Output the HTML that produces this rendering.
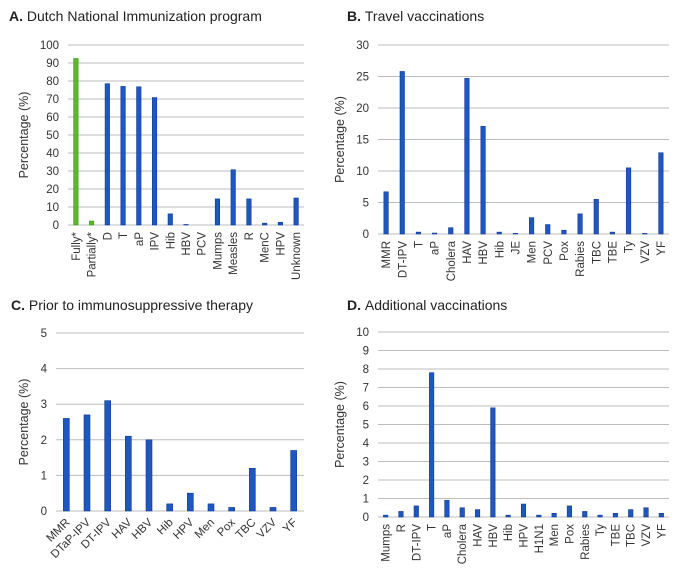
<!DOCTYPE html>
<html><head><meta charset="utf-8"><style>
body{margin:0;background:#fff;}
svg{display:block;font-family:"Liberation Sans",Arial,sans-serif;}
</style></head><body>
<svg id="c" width="685" height="571" viewBox="0 0 685 571"></svg>
<script>
const catsA=["Fully*","Partially*","D","T","aP","IPV","Hib","HBV","PCV","Mumps","Measles","R","MenC","HPV","Unknown"];
const valsA=[92.5,2.2,78.5,77,76.8,70.8,6.2,0.3,0,14.5,30.7,14.5,1,1.5,15];
const ticksA=[0,10,20,30,40,50,60,70,80,90,100];
const catsB=["MMR","DT-IPV","T","aP","Cholera","HAV","HBV","Hib","JE","Men","PCV","Pox","Rabies","TBC","TBE","Ty","VZV","YF"];
const valsB=[6.7,25.8,0.3,0.15,1,24.7,17.1,0.3,0.1,2.6,1.5,0.6,3.2,5.5,0.3,10.5,0.1,12.9];
const ticksB=[0,5,10,15,20,25,30];
const catsC=["MMR","DTaP-IPV","DT-IPV","HAV","HBV","Hib","HPV","Men","Pox","TBC","VZV","YF"];
const valsC=[2.6,2.7,3.1,2.1,2.0,0.2,0.5,0.2,0.1,1.2,0.1,1.7];
const ticksC=[0,1,2,3,4,5];
const catsD=["Mumps","R","DT-IPV","T","aP","Cholera","HAV","HBV","Hib","HPV","H1N1","Men","Pox","Rabies","Ty","TBE","TBC","VZV","YF"];
const valsD=[0.1,0.3,0.6,7.8,0.9,0.5,0.4,5.9,0.1,0.7,0.1,0.2,0.6,0.3,0.1,0.2,0.4,0.5,0.2];
const ticksD=[0,1,2,3,4,5,6,7,8,9,10];
const NS="http://www.w3.org/2000/svg";
const svg=document.getElementById('c');
function mk(tag,attrs,parent){const e=document.createElementNS(NS,tag);for(const k in attrs)e.setAttribute(k,attrs[k]);(parent||svg).appendChild(e);return e;}
function panel(o){
  const g=mk('g',{});
  
  
  const t=mk('text',{x:o.tx,y:o.ty,'font-size':14,fill:'#222'},g);
  
  
  const b=mk('tspan',{'font-weight':'bold'},t);b.textContent=o.letter+' ';
  const r=mk('tspan',{},t);r.textContent=o.title;
  const max=o.ticks[o.ticks.length-1];
  const y=v=>o.y0-(v/max)*(o.y0-o.y1);
  const bw=(o.x1-o.x0)/o.cats.length;
  const x=i=>o.x0+bw*(i+0.5);
  o.ticks.forEach(tv=>{
    const l=mk('line',{x1:o.x0,x2:o.x1,y1:y(tv),y2:y(tv),stroke:'#bdbdbd','stroke-width':1},g);
    
    
    const tl=mk('text',{x:o.x0-9,y:y(tv)+4,'text-anchor':'end','font-size':11.5,fill:'#333'},g);
    
    
    tl.textContent=tv;
  });
  const yt=mk('text',{x:0,y:0,'text-anchor':'middle','font-size':12.5,fill:'#333',transform:`translate(${o.ytx},${(o.y0+o.y1)/2}) rotate(-90)`},g);
  
  
  yt.textContent='Percentage (%)';
  o.cats.forEach((c,i)=>{
    const v=o.vals[i];
    const col=o.green&&i<2?'#5cb82a':'#1f56c0';
    const edge=o.green&&i<2?'#3d9a18':'#123d96';
    const h=o.y0-y(v);
    const rc=mk('rect',{x:x(i)-o.bar/2,y:y(v),width:o.bar,height:Math.max(h,0),fill:col,stroke:edge,'stroke-width':0.6},g);
    
    
    let lab;
    if(o.rot45){
      lab=mk('text',{x:0,y:0,'text-anchor':'end','font-size':11.5,fill:'#333',transform:`translate(${x(i)+4},${o.y0+12}) rotate(-45)`},g);
    }else{
      lab=mk('text',{x:0,y:0,'text-anchor':'end','font-size':11.5,fill:'#333',transform:`translate(${x(i)+4},${o.y0+7}) rotate(-90)`},g);
    }
    
    
    lab.textContent=c;
  });
}
panel({name:'panel-a',letter:'A.',title:'Dutch National Immunization program',tx:9,ty:21,cats:catsA,vals:valsA,ticks:ticksA,x0:68,x1:304,y0:225,y1:45,bar:4.5,ytx:28,green:true});
panel({name:'panel-b',letter:'B.',title:'Travel vaccinations',tx:347,ty:21,cats:catsB,vals:valsB,ticks:ticksB,x0:378,x1:669,y0:234,y1:45,bar:4.5,ytx:344});
panel({name:'panel-c',letter:'C.',title:'Prior to immunosuppressive therapy',tx:11,ty:310,cats:catsC,vals:valsC,ticks:ticksC,x0:56,x1:304,y0:511,y1:333,bar:6,ytx:28,rot45:true});
panel({name:'panel-d',letter:'D.',title:'Additional vaccinations',tx:347,ty:310,cats:catsD,vals:valsD,ticks:ticksD,x0:378,x1:669,y0:517,y1:332,bar:4.5,ytx:344});
</script>
</body></html>
